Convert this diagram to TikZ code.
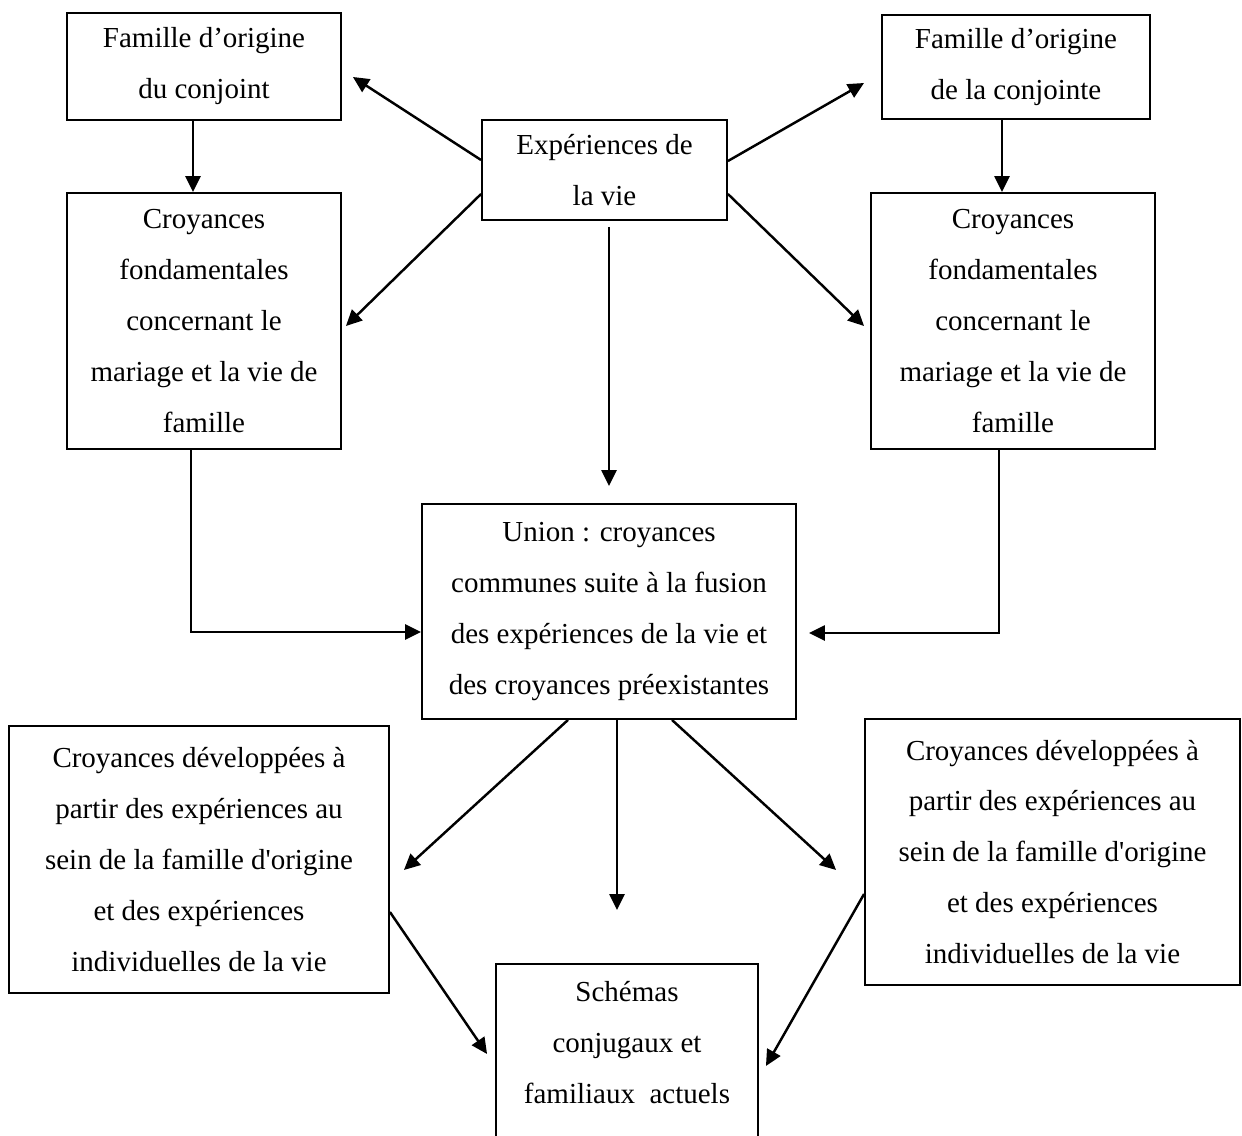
\documentclass[tikz,border=0pt]{standalone}
\usepackage{fontspec}
\setmainfont{Liberation Serif}
\usetikzlibrary{arrows.meta,calc}

\begin{document}
\begin{tikzpicture}[x=0.02cm, y=-0.02cm,
	boite/.style={draw, line width=1.1pt, align=center, inner sep=0pt, font=\fontsize{16.5}{29}\selectfont},
	fleche/.style={line width=1.4pt, -{Triangle[length=0.32cm, width=0.3cm]}}]

	\useasboundingbox (0,0) rectangle (1242,1136);

	\node [boite, minimum width=5.48cm, minimum height=2.14cm] (conjoint) at (204, 66.5) {Famille d’origine\\du conjoint};
	\node [boite, minimum width=5.36cm, minimum height=2.08cm] (conjointe) at (1016, 67) {Famille d’origine\\de la conjointe};
	\node [boite, minimum width=4.9cm, minimum height=2cm] (expvie) at (604.5, 170) {Expériences de\\la vie};

	\node [boite, minimum width=5.48cm, minimum height=5.12cm] (croyA) at (204, 321) {Croyances\\fondamentales\\concernant le\\mariage et la vie de\\famille};
	\node [boite, minimum width=5.68cm, minimum height=5.12cm] (croyB) at (1013, 321) {Croyances\\fondamentales\\concernant le\\mariage et la vie de\\famille};

	\node [boite, minimum width=7.48cm, minimum height=4.3cm] (union) at (609, 611.5) {Union : croyances\\communes suite à la fusion\\des expériences de la vie et\\des croyances préexistantes};

	\node [boite, minimum width=7.6cm, minimum height=5.34cm] (devA) at (199, 859.5) {Croyances développées à\\partir des expériences au\\sein de la famille d\textquotesingle origine\\et des expériences\\individuelles de la vie};
	\node [boite, minimum width=7.5cm, minimum height=5.32cm] (devB) at (1052.5, 852) {Croyances développées à\\partir des expériences au\\sein de la famille d\textquotesingle origine\\et des expériences\\individuelles de la vie};

	\node [boite, minimum width=5.24cm, minimum height=4.16cm] (schemas) at (627, 1068) {Schémas\\conjugaux et\\familiaux\ \ actuels\\\mbox{}};

	\draw [fleche] ($(expvie.west)+(0,-10)$) -- ($(conjoint.east)+(11,10.5)$);
	\draw [fleche] ($(expvie.east)+(0,-9)$) -- ($(conjointe.west)+(-17,16)$);
	\draw [fleche] ($(expvie.west)+(0,24)$) -- ($(croyA.east)+(4,5)$);
	\draw [fleche] ($(expvie.east)+(0,24)$) -- ($(croyB.west)+(-6,5)$);
	\draw [fleche] ($(expvie.south -| union.north)+(0,6)$) -- ($(union.north)+(0,-17)$);

	\draw [fleche] ($(conjoint.south)+(-11,0)$) -- ($(croyA.north)+(-11,0)$);
	\coordinate (bd) at ($(conjointe.south)+(-14,0)$);
	\draw [fleche] (bd) -- (bd |- croyB.north);

	\draw [fleche] ($(croyA.south)+(-13,0)$) |- ($(union.west)+(0,20.5)$);
	\draw [fleche] ($(croyB.south)+(-14,0)$) |- ($(union.east)+(12,21.5)$);

	\draw [fleche] ($(union.south)+(-41,0)$) -- ($(devA.east)+(14,10.5)$);
	\draw [fleche] ($(union.south)+(8,0)$) -- ($(schemas.north)+(-10,-53)$);
	\draw [fleche] ($(union.south)+(63,0)$) -- ($(devB.west)+(-28,18)$);

	\draw [fleche] ($(devA.east)+(0,52.5)$) -- ($(schemas.west)+(-8,-14)$);
	\draw [fleche] ($(devB.west)+(0,42)$) -- ($(schemas.east)+(7,-2)$);
\end{tikzpicture}
\end{document}
